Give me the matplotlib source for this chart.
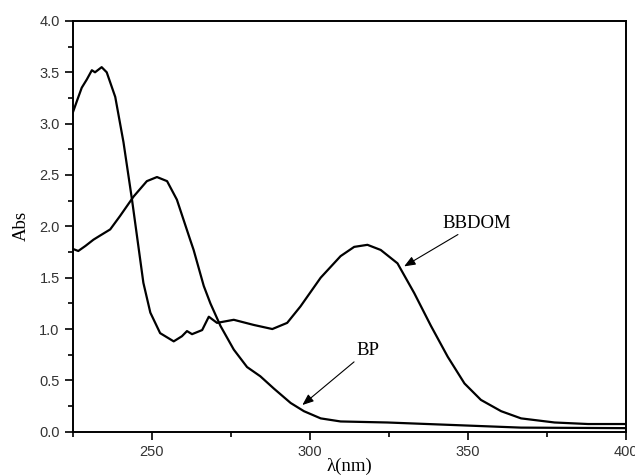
import matplotlib
matplotlib.use("Agg")
import matplotlib.pyplot as plt
from matplotlib.ticker import MultipleLocator

# --- data ---
bbdom_wl = [225.0, 226.5, 227.8, 229.4, 231.0, 232.0, 234.1, 235.7, 238.4, 241.0,
            243.7, 245.7, 247.3, 249.5, 252.6, 256.9, 259.5, 261.1, 262.7, 265.9,
            268.0, 270.6, 275.9, 282.2, 288.1, 292.8, 297.0, 303.4, 309.7, 314.0,
            318.2, 322.4, 327.7, 333.0, 338.3, 343.6, 348.9, 354.1, 360.5, 366.8,
            377.4, 388.0, 400.0]
bbdom_abs = [3.11, 3.24, 3.35, 3.43, 3.52, 3.50, 3.55, 3.50, 3.26, 2.82,
             2.26, 1.81, 1.45, 1.16, 0.96, 0.88, 0.93, 0.98, 0.95, 0.99,
             1.12, 1.06, 1.09, 1.04, 1.00, 1.06, 1.22, 1.50, 1.71, 1.80,
             1.82, 1.77, 1.64, 1.35, 1.03, 0.73, 0.47, 0.31, 0.20, 0.13,
             0.09, 0.075, 0.075]

bp_wl = [225.0, 226.7, 229.0, 231.5, 233.6, 236.8, 239.9, 244.2, 248.4, 251.6,
         254.8, 257.9, 262.1, 263.2, 266.4, 268.5, 271.7, 275.9, 280.1, 284.3,
         288.6, 293.9, 298.1, 303.4, 309.7, 324.5, 345.7, 366.8, 400.0]
bp_abs = [1.78, 1.76, 1.81, 1.87, 1.91, 1.97, 2.10, 2.29, 2.44, 2.48,
          2.44, 2.26, 1.87, 1.77, 1.42, 1.25, 1.03, 0.80, 0.63, 0.54,
          0.42, 0.28, 0.20, 0.13, 0.10, 0.09, 0.065, 0.04, 0.035]

x_ticks = [250, 300, 350, 400]
y_ticks = [0.0, 0.5, 1.0, 1.5, 2.0, 2.5, 3.0, 3.5, 4.0]

fig = plt.figure(figsize=(6.35, 4.76), dpi=100)
ax = fig.add_axes([0.1148, 0.093, 0.871, 0.863])

ax.plot(bbdom_wl, bbdom_abs, color="black", lw=1.6)
ax.plot(bp_wl, bp_abs, color="black", lw=1.6)

ax.set_xlim(225, 400)
ax.set_ylim(0, 4)
ax.set_xticks(x_ticks)
ax.set_yticks(y_ticks)
ax.set_yticklabels([f"{v:.1f}" for v in y_ticks])
ax.xaxis.set_minor_locator(MultipleLocator(25))
ax.yaxis.set_minor_locator(MultipleLocator(0.25))

ax.tick_params(which="major", direction="out", length=6, width=1.2,
               labelsize=10.5, labelcolor="#333333", top=False, right=False)
ax.tick_params(which="minor", direction="out", length=3.5, width=1.2,
               top=False, right=False)
for lab in ax.get_xticklabels() + ax.get_yticklabels():
    lab.set_family("Liberation Sans")
for s in ax.spines.values():
    s.set_linewidth(1.4)

serif = "Liberation Serif"
ax.set_xlabel("λ(nm)", family=serif, fontsize=13.5, labelpad=-1)
ax.set_ylabel("Abs", family=serif, fontsize=13.5, labelpad=7)

arrow = dict(arrowstyle="-|>,head_length=0.5,head_width=0.2", color="black", lw=0.8,
             shrinkA=0, shrinkB=0)
ax.annotate("BBDOM", xy=(329.8, 1.61), xytext=(342.0, 2.03), family=serif,
            fontsize=13.5, va="center", ha="left", arrowprops=arrow)
ax.annotate("BP", xy=(297.6, 0.26), xytext=(314.6, 0.79), family=serif,
            fontsize=13.5, va="center", ha="left", arrowprops=arrow)

fig.savefig("out.png", dpi=100)
